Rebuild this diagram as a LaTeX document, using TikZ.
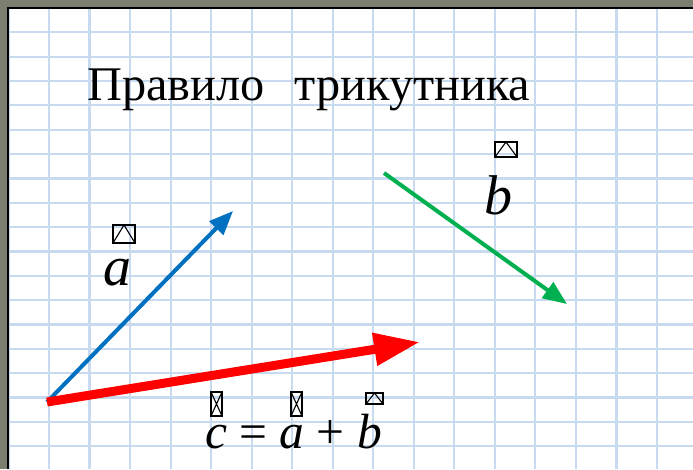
\documentclass[tikz,border=0pt]{standalone}
\usepackage{fontspec}
\setmainfont{Liberation Serif}
\usetikzlibrary{arrows.meta}
\definecolor{gridblue}{RGB}{200,218,240}
\definecolor{frameband}{RGB}{124,127,111}
\definecolor{vblue}{RGB}{0,112,192}
\definecolor{vgreen}{RGB}{0,176,80}
\definecolor{vred}{RGB}{255,0,0}
\tikzset{
  gridline/.style={draw=gridblue, line width=2.2pt},
  vecthin/.style={line width=4pt, -{Triangle[length=24pt,width=19pt]}},
  vecthick/.style={line width=9pt, -{Triangle[length=46pt,width=31pt]}},
  title/.style={anchor=base west, inner sep=0pt, font=\fontsize{48.3}{58}\selectfont},
  lab/.style={anchor=base west, inner sep=0pt, font=\fontsize{56}{66}\selectfont\itshape},
  eqn/.style={anchor=base west, inner sep=0pt, font=\fontsize{49.5}{58}\selectfont},
  missglyph/.style={draw=black, line width=1.1pt},
  boxcaret/.pic={\draw[missglyph] (0,0) rectangle (1,1); \draw[missglyph] (0,1) -- (0.5,0) -- (1,1);},
  boxcross/.pic={\draw[missglyph] (0,0) rectangle (1,1); \draw[missglyph] (0,0) -- (1,1) (1,0) -- (0,1);}
}
\begin{document}
\begin{tikzpicture}[x=1pt,y=-1pt]
\useasboundingbox (0,0) rectangle (693,469);
\fill[white] (0,0) rectangle (693,469);
% grid
\foreach \k in {0,...,16} { \draw[gridline] ({8.5+40.53*\k},8) -- ({8.5+40.53*\k},469); }
\foreach \k in {0,...,18} { \draw[gridline] (8,{7.95+24.35*\k}) -- (693,{7.95+24.35*\k}); }
% frame
\fill[frameband] (0,0) rectangle (693,7);
\fill[frameband] (0,0) rectangle (7,469);
\draw[black, line width=1.6pt] (7.8,469) -- (7.8,7.8) -- (693,7.8);
% title
\node[title] (t) at (87,100) {Правило\hspace*{30pt}трикутника};
% vector endpoints
\coordinate (O) at (47,402);
\coordinate (A) at (233,211);
\coordinate (B1) at (384,173);
\coordinate (B2) at (567,304);
\coordinate (C) at (420,342);
\draw[vecthin, vblue] (O) -- (A);
\draw[vecthin, vgreen] (B1) -- (B2);
\draw[vecthick, vred] (O) -- (C);
% labels
\node[lab] (la) at (103,285) {a};
\pic[xscale=22,yscale=18] at (113,225) {boxcaret};
\node[lab] (lb) at (484,214) {b};
\pic[xscale=22,yscale=15] at (495,142) {boxcaret};
\node[eqn] (eq) at (205,448) {\textit{c} = \textit{a} + \textit{b}};
\pic[xscale=11,yscale=24] at (211,392) {boxcross};
\pic[xscale=11,yscale=24] at (291,392) {boxcross};
\pic[xscale=17,yscale=11] at (366,393) {boxcaret};
\end{tikzpicture}
\end{document}
